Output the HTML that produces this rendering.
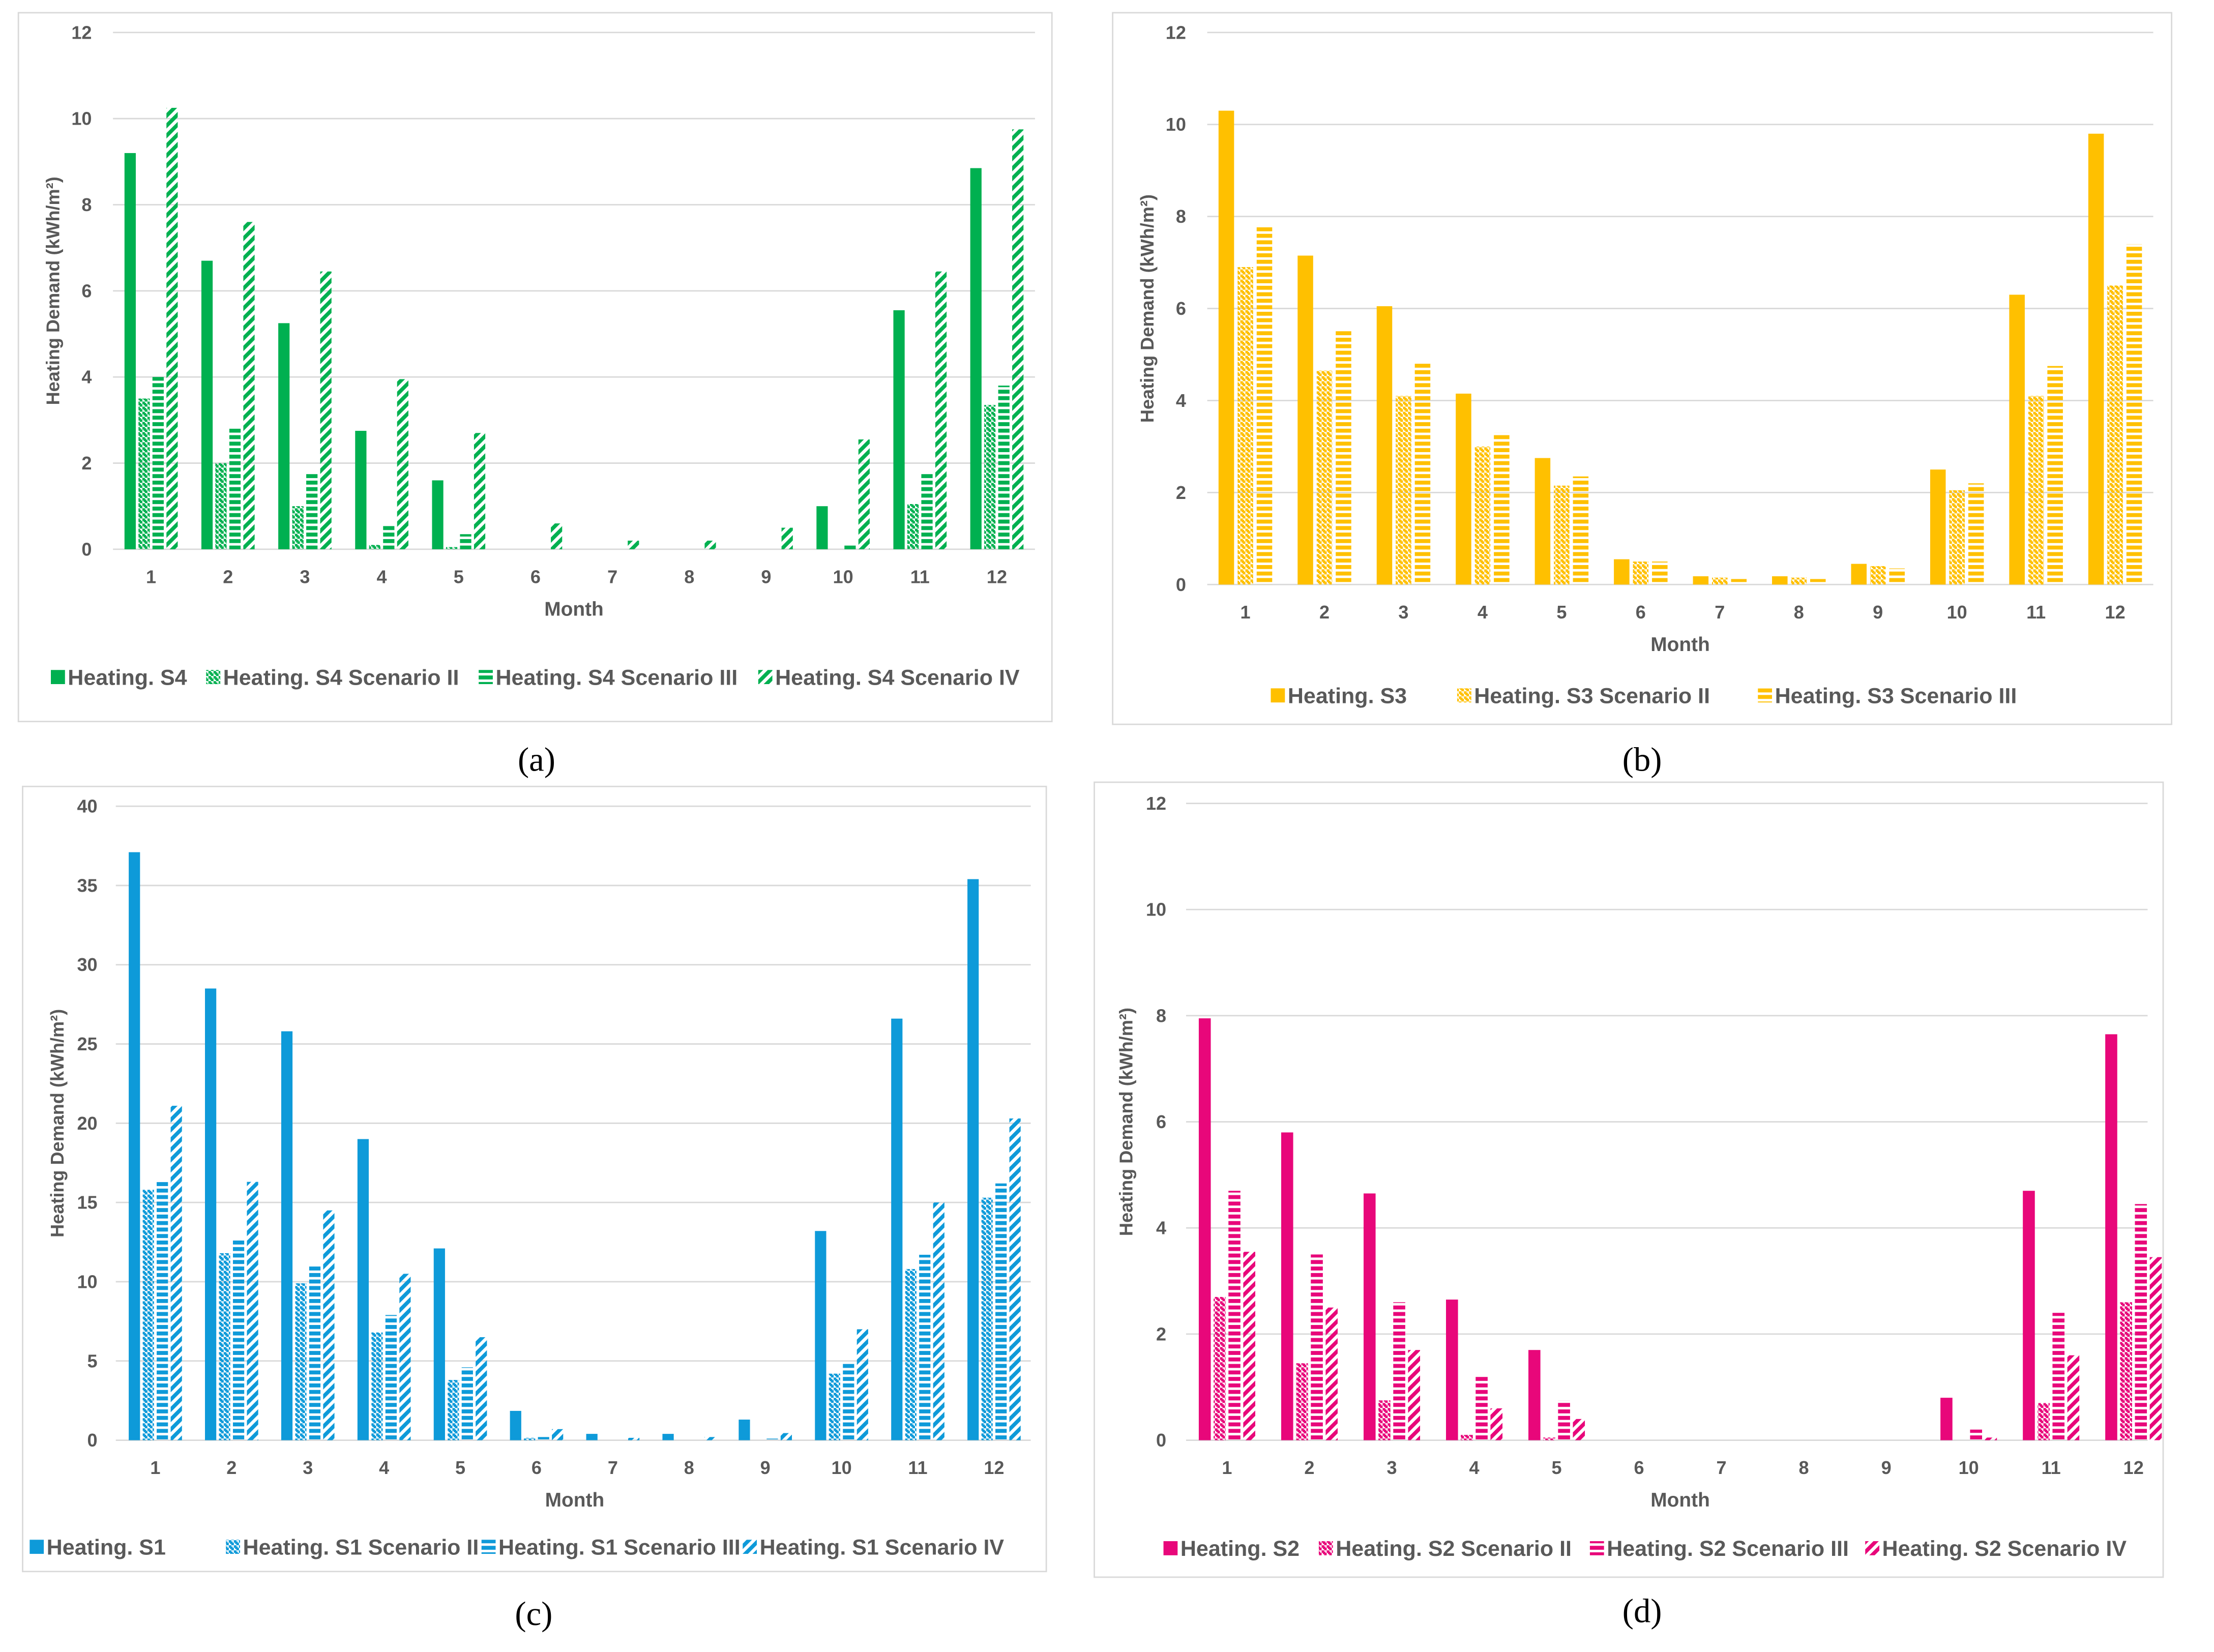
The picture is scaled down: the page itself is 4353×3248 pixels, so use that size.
<!DOCTYPE html>
<html><head><meta charset="utf-8"><style>
html,body{margin:0;padding:0;background:#fff;}
svg{display:block;}
text{font-family:"Liberation Sans",sans-serif;}
text.cap{font-family:"Liberation Serif",serif;}
</style></head><body>
<svg id="fig" width="4353" height="3248" viewBox="0 0 1568 1170" xmlns="http://www.w3.org/2000/svg">
<defs id="defs"></defs>
</svg>
<script>
const months = ["1","2","3","4","5","6","7","8","9","10","11","12"];
const seriesA = [
 [9.2,6.7,5.25,2.75,1.6,0,0,0,0,1.0,5.55,8.85],
 [3.5,2.0,1.0,0.1,0.05,0,0,0,0,0,1.05,3.35],
 [4.0,2.8,1.8,0.55,0.35,0,0,0,0,0.1,1.8,3.8],
 [10.25,7.6,6.45,3.95,2.7,0.6,0.2,0.2,0.5,2.55,6.45,9.75]];
const namesA = ["Heating. S4","Heating. S4 Scenario II","Heating. S4 Scenario III","Heating. S4 Scenario IV"];
const seriesB = [
 [10.3,7.15,6.05,4.15,2.75,0.55,0.18,0.18,0.45,2.5,6.3,9.8],
 [6.9,4.65,4.1,3.0,2.15,0.5,0.15,0.15,0.4,2.05,4.1,6.5],
 [7.8,5.55,4.8,3.3,2.35,0.5,0.12,0.12,0.35,2.2,4.75,7.4]];
const namesB = ["Heating. S3","Heating. S3 Scenario II","Heating. S3 Scenario III"];
const seriesC = [
 [37.1,28.5,25.8,19.0,12.1,1.85,0.4,0.4,1.3,13.2,26.6,35.4],
 [15.8,11.8,9.9,6.8,3.8,0.15,0,0,0,4.2,10.8,15.3],
 [16.4,12.6,11.0,7.9,4.6,0.2,0.05,0.05,0.1,4.9,11.7,16.2],
 [21.1,16.3,14.5,10.5,6.5,0.7,0.15,0.2,0.45,7.0,15.0,20.3]];
const namesC = ["Heating. S1","Heating. S1 Scenario II","Heating. S1 Scenario III","Heating. S1 Scenario IV"];
const seriesD = [
 [7.95,5.8,4.65,2.65,1.7,0,0,0,0,0.8,4.7,7.65],
 [2.7,1.45,0.75,0.1,0.05,0,0,0,0,0,0.7,2.6],
 [4.7,3.5,2.6,1.2,0.75,0,0,0,0,0.2,2.4,4.45],
 [3.55,2.5,1.7,0.6,0.4,0,0,0,0,0.05,1.6,3.45]];
const namesD = ["Heating. S2","Heating. S2 Scenario II","Heating. S2 Scenario III","Heating. S2 Scenario IV"];
const ticks12 = [0,2,4,6,8,10,12];
const ticks40 = [0,5,10,15,20,25,30,35,40];

const NS="http://www.w3.org/2000/svg";
const svg=document.getElementById('fig');
const defs=document.getElementById('defs');
function el(tag,attrs,parent){const e=document.createElementNS(NS,tag);for(const k in attrs)e.setAttribute(k,attrs[k]);(parent||svg).appendChild(e);return e;}

function makePatterns(key,color){
  let p=el('pattern',{id:key+'-check',width:3.6,height:3.6,patternUnits:'userSpaceOnUse'},defs);
  el('rect',{x:0,y:0,width:1.8,height:1.8,fill:color},p);
  el('rect',{x:1.8,y:1.8,width:1.8,height:1.8,fill:color},p);
  el('rect',{x:0.9,y:0.9,width:1.8,height:1.8,fill:color},p);
  p=el('pattern',{id:key+'-dash',width:20,height:4.6,patternUnits:'userSpaceOnUse'},defs);
  el('rect',{x:0,y:0,width:20,height:2.8,fill:color},p);
  p=el('pattern',{id:key+'-zig',width:5,height:5,patternUnits:'userSpaceOnUse',patternTransform:'rotate(-45)'},defs);
  el('rect',{x:0,y:0,width:5,height:2.7,fill:color},p);
}

function chart(o){
  const g=el('g',{});
  
  
  const box=el('rect',{x:o.box[0],y:o.box[1],width:o.box[2]-o.box[0],height:o.box[3]-o.box[1],fill:'#fff',stroke:'#d9d9d9','stroke-width':1},g);
  
  
  makePatterns(o.key,o.color);
  const ymax=o.ticks[o.ticks.length-1];
  const yS=v=>o.y0-(o.y0-o.ytop)*v/ymax;
  const xS=i=>o.x1+(o.x12-o.x1)*i/11;
  o.ticks.forEach(t=>{
    const ln=el('line',{x1:o.gx0,x2:o.gx1,y1:yS(t),y2:yS(t),stroke:'#d9d9d9','stroke-width':1},g);
    
    
    const tx=el('text',{x:o.tx,y:yS(t)+4.5,'text-anchor':'end','font-size':13,'font-weight':'bold',fill:'#595959'},g);
    tx.textContent=t;
    
    
  });
  const fills=[o.color,'url(#'+o.key+'-check)','url(#'+o.key+'-dash)','url(#'+o.key+'-zig)'];
  const n=o.series.length;
  o.series.forEach((s,si)=>{
    s.forEach((v,i)=>{
      if(v<=0) return;
      const cx=xS(i)+(si-(n-1)/2)*o.pitch;
      const r=el('rect',{x:cx-o.bw/2,y:yS(v),width:o.bw,height:yS(0)-yS(v),fill:fills[si]},g);
      
      
    });
  });
  months.forEach((m,i)=>{
    const tx=el('text',{x:xS(i),y:o.y0+24,'text-anchor':'middle','font-size':13,'font-weight':'bold',fill:'#595959'},g);
    tx.textContent=m;
    
    
  });
  const mt=el('text',{x:(o.x1+o.x12)/2,y:o.y0+47,'text-anchor':'middle','font-size':14,'font-weight':'bold',fill:'#595959'},g);
  mt.textContent='Month';
  
  
  const yt=el('text',{x:0,y:0,transform:'translate('+o.ytx+','+((o.y0+o.ytop)/2)+') rotate(-90)','text-anchor':'middle','font-size':13,'font-weight':'bold',fill:'#595959'},g);
  yt.textContent='Heating Demand (kWh/m²)';
  
  
  o.names.forEach((nm,si)=>{
    const sq=el('rect',{x:o.leg[si],y:o.legY-10.5,width:10,height:10,fill:fills[si]},g);
    
    
    const tx=el('text',{x:o.leg[si]+12,y:o.legY,'font-size':15.5,'font-weight':'bold',fill:'#595959'},g);
    tx.textContent=nm;
    
    
  });
  const cap=el('text',{x:o.cap[0],y:o.cap[1],'text-anchor':'middle','font-size':24,fill:'#000','class':'cap',style:'font-family:"Liberation Serif",serif'},g);
  cap.textContent=o.capText;
  
  
}

chart({name:'chart-a',key:'a',color:'#00B050',box:[13,9,745,511],series:seriesA,names:namesA,ticks:ticks12,
  y0:389,ytop:23,x1:107,x12:706,gx0:80,gx1:733,tx:65,ytx:42,pitch:9.9,bw:8,
  leg:[36,146,339,537],legY:485,cap:[380,546],capText:'(a)'});
chart({name:'chart-b',key:'b',color:'#FFC000',box:[788,9,1538,513],series:seriesB,names:namesB,ticks:ticks12,
  y0:414,ytop:23,x1:882,x12:1498,gx0:855,gx1:1525,tx:840,ytx:817,pitch:13.5,bw:11,
  leg:[900,1032,1245],legY:498,cap:[1163,546],capText:'(b)'});
chart({name:'chart-c',key:'c',color:'#0E9AD9',box:[16,557,741,1113],series:seriesC,names:namesC,ticks:ticks40,
  y0:1020,ytop:571,x1:110,x12:704,gx0:82,gx1:730,tx:69,ytx:45,pitch:9.9,bw:8,
  leg:[21,160,341,526],legY:1101,cap:[378,1151],capText:'(c)'});
chart({name:'chart-d',key:'d',color:'#E8077A',box:[775,554,1532,1117],series:seriesD,names:namesD,ticks:ticks12,
  y0:1020,ytop:569,x1:869,x12:1511,gx0:840,gx1:1521,tx:826,ytx:802,pitch:10.5,bw:8.5,
  leg:[824,934,1126,1321],legY:1102,cap:[1163,1149],capText:'(d)'});
</script>
</body></html>
